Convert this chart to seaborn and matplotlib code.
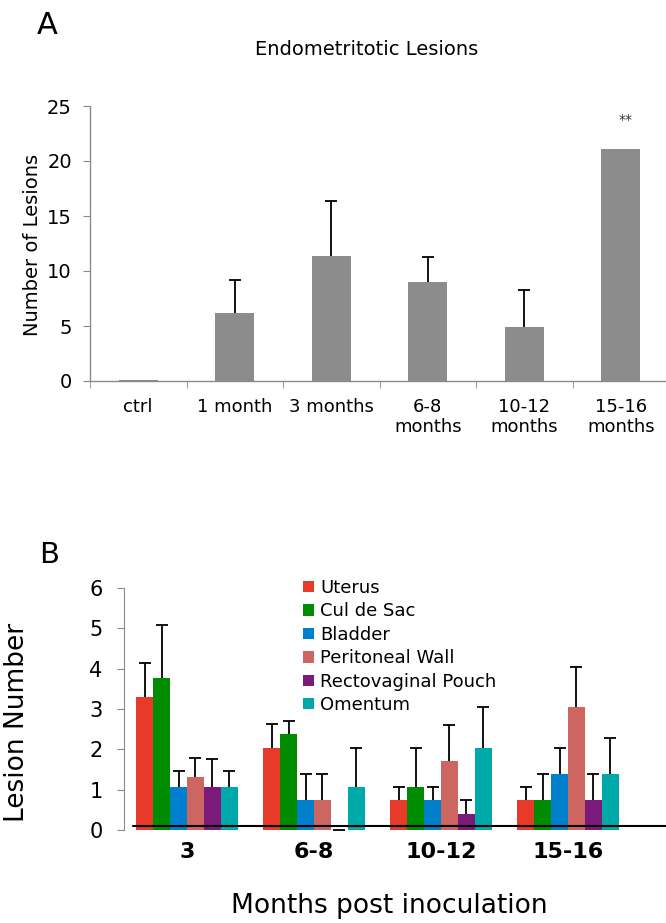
import numpy as np
import pandas as pd
import matplotlib
matplotlib.use('Agg')
import matplotlib.pyplot as plt
from matplotlib.patches import Patch
import seaborn as sns

# Panel A: total lesions per time point
groups_a = ['ctrl', '1 month', '3 months', '6-8\nmonths', '10-12\nmonths', '15-16\nmonths']
lesions_a = [0.1, 6.2, 11.4, 9.0, 4.9, 21.1]
err_a = [0.0, 3.0, 5.0, 2.3, 3.4, 0.0]

# Panel B: lesions per site
months_b = ['3', '6-8', '10-12', '15-16']
sites = ['Uterus', 'Cul de Sac', 'Bladder', 'Peritoneal Wall', 'Rectovaginal Pouch', 'Omentum']
site_colors = ['#e83a2a', '#008c00', '#0080cc', '#cd6660', '#7b1a7b', '#00a9a9']
uterus = [3.29, 2.04, 0.74, 0.74]
cul_de_sac = [3.78, 2.38, 1.06, 0.74]
bladder = [1.06, 0.74, 0.74, 1.39]
peritoneal = [1.32, 0.74, 1.72, 3.05]
rectovaginal = [1.06, 0.0, 0.39, 0.74]
omentum = [1.06, 1.06, 2.04, 1.39]
uterus_err = [0.85, 0.59, 0.32, 0.32]
cul_de_sac_err = [1.31, 0.32, 0.98, 0.66]
bladder_err = [0.41, 0.66, 0.32, 0.65]
peritoneal_err = [0.46, 0.66, 0.88, 0.98]
rectovaginal_err = [0.70, 0.0, 0.35, 0.66]
omentum_err = [0.41, 0.98, 1.01, 0.88]

sns.set_style('white')
plt.rcParams['font.family'] = ['DejaVu Sans']
plt.rcParams['text.color'] = 'black'
plt.rcParams['axes.labelcolor'] = 'black'

fig = plt.figure(figsize=(6.66, 9.23), dpi=100)
W, H = 666.0, 923.0


# only the upper half of an error bar, like Excel's "plus" error bars
def upper_errorbar(ax, x, y, err, cap):
    eb = ax.errorbar(x, y, yerr=[np.zeros(len(err)), err], fmt='none', ecolor='black',
                     elinewidth=1.3, capsize=cap, capthick=1.3, zorder=4)
    eb[1][0].set_visible(False)
    return eb


# ---------- panel A ----------
axA = fig.add_axes([90 / W, (H - 381) / H, 579 / W, 275 / H])
dfa = pd.DataFrame({'group': groups_a, 'lesions': lesions_a})
sns.barplot(data=dfa, x='group', y='lesions', color='#8c8c8c', width=0.4,
            saturation=1, errorbar=None, ax=axA, linewidth=0)
centers = [p.get_x() + p.get_width() / 2 for p in axA.patches]
sel = [i for i, e in enumerate(err_a) if e > 0]
upper_errorbar(axA, [centers[i] for i in sel], [lesions_a[i] for i in sel],
               [err_a[i] for i in sel], 4.5)
axA.text(centers[-1] + 0.05, 23.7, '**', ha='center', va='center', fontsize=10, color='#333333')

axA.set_xlim(-0.5, 5.5)
axA.set_ylim(0, 25)
axA.set_yticks([0, 5, 10, 15, 20, 25])
axA.set_xlabel('')
axA.set_ylabel('Number of Lesions', fontsize=14)
axA.yaxis.set_label_coords(-0.083, 0.495)
for s in ['top', 'right']:
    axA.spines[s].set_visible(False)
for s in ['left', 'bottom']:
    axA.spines[s].set_color('#8a8a8a')
    axA.spines[s].set_linewidth(1)
axA.tick_params(axis='y', direction='out', length=5, color='#8a8a8a', labelcolor='black',
                labelsize=14, pad=8, left=True)
axA.tick_params(axis='x', which='major', length=0, labelsize=13, pad=12, labelcolor='black')
axA.set_xticks(np.arange(-0.5, 6, 1), minor=True)
axA.tick_params(axis='x', which='minor', direction='out', length=5, color='#8a8a8a', bottom=True)
axA.text(0.477, 1.204, 'Endometritotic Lesions', transform=axA.transAxes,
         ha='center', va='center', fontsize=14)
fig.text(47 / W, 1 - 25 / H, 'A', fontsize=22, ha='center', va='center')

# ---------- panel B ----------
axB = fig.add_axes([123.5 / W, (H - 830) / H, 508 / W, 242 / H])
series = [uterus, cul_de_sac, bladder, peritoneal, rectovaginal, omentum]
errors = [uterus_err, cul_de_sac_err, bladder_err, peritoneal_err, rectovaginal_err, omentum_err]
rows = []
for site, vals in zip(sites, series):
    for m, v in zip(months_b, vals):
        rows.append({'month': m, 'site': site, 'value': v})
dfb = pd.DataFrame(rows)
palette = dict(zip(sites, site_colors))
sns.barplot(data=dfb, x='month', y='value', hue='site', order=months_b, hue_order=sites,
            palette=palette, width=0.8, saturation=1, errorbar=None, legend=False,
            ax=axB, linewidth=0)
for cont, vals, errs in zip(axB.containers, series, errors):
    xs = [b.get_x() + b.get_width() / 2 for b in cont]
    upper_errorbar(axB, xs, vals, errs, 4.3)

axB.axhline(0.1, xmin=0.019, xmax=1.07, color='black', lw=1.5, clip_on=False, zorder=5)
axB.set_xlim(-0.5, 3.5)
axB.set_ylim(0, 6)
axB.set_yticks(range(0, 7))
axB.set_ylabel('Lesion Number', fontsize=19)
axB.yaxis.set_label_coords(-0.184, 0.446)
axB.set_xlabel('Months post inoculation', fontsize=19)
axB.xaxis.set_label_coords(0.523, -0.262)
for s in ['top', 'right', 'bottom']:
    axB.spines[s].set_visible(False)
axB.spines['left'].set_color('#8a8a8a')
axB.tick_params(axis='y', direction='out', length=5, color='#8a8a8a', labelcolor='black',
                labelsize=15, pad=10, left=True)
axB.tick_params(axis='x', length=0, labelsize=16, pad=9, labelcolor='black')
for lab in axB.get_xticklabels():
    lab.set_fontweight('bold')

handles = [Patch(facecolor=c, edgecolor='none') for c in site_colors]
fig.legend(handles, sites, loc='upper left', bbox_to_anchor=(303 / W, 1 - 579 / H),
           frameon=False, fontsize=13, handlelength=0.6, handleheight=0.6,
           handletextpad=0.35, labelspacing=0.3, borderpad=0, borderaxespad=0)
fig.text(49 / W, 1 - 555 / H, 'B', fontsize=21, ha='center', va='center')

fig.savefig('out.png', dpi=100)
